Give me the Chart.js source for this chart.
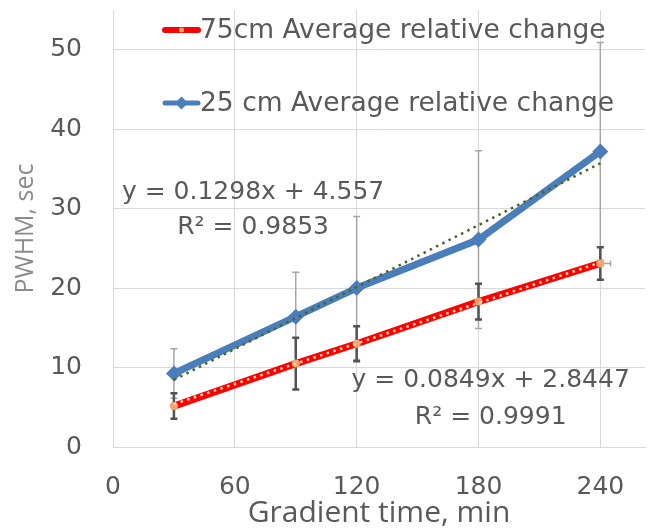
<!DOCTYPE html>
<html>
<head>
<meta charset="utf-8">
<script src="https://cdn.jsdelivr.net/npm/chart.js@4.4.1/dist/chart.umd.min.js"></script>
<style>
  html, body { margin: 0; padding: 0; background: #ffffff; }
  canvas { display: block; }
</style>
</head>
<body>
<canvas id="chart" width="653" height="528"></canvas>
<script>
// Gradient time (min) at which each column length was measured
const gradientTimes = [30, 90, 120, 180, 240];

// 75 cm column: mean peak width and its spread
const pwhm75 = [5.15, 10.5, 13.0, 18.3, 23.1];
const pwhm75Err = [1.6, 3.25, 2.2, 2.25, 2.05];
const pwhm75XErr = [0, 0, 0, 0, 5];

// 25 cm column: mean peak width and its spread
const pwhm25 = [9.25, 16.4, 20.0, 26.1, 37.2];
const pwhm25Err = [3.1, 5.6, 9.0, 11.2, 13.7];

// Linear fits: [slope, intercept]
const fit75 = [0.0849, 2.8447];
const fit25 = [0.1298, 4.557];
const r2Fit75 = '0.9991';
const r2Fit25 = '0.9853';

// Axis ticks
const xTicks = [0, 60, 120, 180, 240];
const yTicks = [0, 10, 20, 30, 40, 50];

const TEXT = '#595959';
const GRID = '#d9d9d9';
const RED = '#ff0000';
const BLUE = '#4a7ebb';
const TICK_FONT = { family: '"DejaVu Sans", sans-serif', size: 25 };

const toPoints = (xs, ys) => xs.map((x, i) => ({ x, y: ys[i] }));
const fitLine = (fit) => {
  const x0 = gradientTimes[0];
  const x1 = gradientTimes[gradientTimes.length - 1];
  return [{ x: x0, y: fit[0] * x0 + fit[1] }, { x: x1, y: fit[0] * x1 + fit[1] }];
};
const fmtEq = (fit) => 'y = ' + fit[0] + 'x + ' + fit[1];

// Vertical (and one horizontal) error bars, drawn under the series lines
const errorBars = {
  id: 'errorBars',
  beforeDatasetsDraw(chart) {
    const { ctx, scales: { x, y } } = chart;
    const bars = (vals, errs, xErrs, color, width, cap) => {
      ctx.save();
      ctx.strokeStyle = color;
      ctx.lineWidth = width;
      ctx.lineCap = 'butt';
      gradientTimes.forEach((t, i) => {
        const px = x.getPixelForValue(t);
        const top = y.getPixelForValue(vals[i] + errs[i]);
        const bot = y.getPixelForValue(vals[i] - errs[i]);
        ctx.beginPath();
        ctx.moveTo(px, top); ctx.lineTo(px, bot);
        ctx.moveTo(px - cap, top); ctx.lineTo(px + cap, top);
        ctx.moveTo(px - cap, bot); ctx.lineTo(px + cap, bot);
        ctx.stroke();
        if (xErrs && xErrs[i]) {
          const py = y.getPixelForValue(vals[i]);
          const l = x.getPixelForValue(t - xErrs[i]);
          const r = x.getPixelForValue(t + xErrs[i]);
          ctx.beginPath();
          ctx.lineWidth = 1.5;
          ctx.strokeStyle = '#a6a6a6';
          ctx.moveTo(l, py); ctx.lineTo(r, py);
          ctx.moveTo(r, py - 3); ctx.lineTo(r, py + 3);
          ctx.stroke();
          ctx.lineWidth = width;
          ctx.strokeStyle = color;
        }
      });
      ctx.restore();
    };
    bars(pwhm25, pwhm25Err, null, '#a6a6a6', 1.5, 3.5);
    bars(pwhm75, pwhm75Err, pwhm75XErr, '#525252', 2.5, 3.5);
  }
};

// Fit equations, placed in data coordinates
const fitLabels = {
  id: 'fitLabels',
  afterDatasetsDraw(chart) {
    const { ctx, scales: { x, y } } = chart;
    const labels = [
      { at: [69, 32.0], text: fmtEq(fit25) },
      { at: [69, 27.6], text: 'R² = ' + r2Fit25 },
      { at: [186, 8.4], text: fmtEq(fit75) },
      { at: [186, 3.75], text: 'R² = ' + r2Fit75 }
    ];
    ctx.save();
    ctx.font = '25px "DejaVu Sans", sans-serif';
    ctx.fillStyle = TEXT;
    ctx.textAlign = 'center';
    ctx.textBaseline = 'middle';
    labels.forEach(l => ctx.fillText(l.text, x.getPixelForValue(l.at[0]), y.getPixelForValue(l.at[1])));
    ctx.restore();
  }
};

// Two-row legend inside the plot area
const insideLegend = {
  id: 'insideLegend',
  afterDraw(chart) {
    const { ctx, chartArea: a } = chart;
    const x0 = a.left + 52, x1 = a.left + 85, xm = (x0 + x1) / 2;
    const rows = [a.top + 20, a.top + 93];
    ctx.save();
    // red series swatch
    ctx.lineCap = 'round';
    ctx.strokeStyle = RED; ctx.lineWidth = 6;
    ctx.beginPath(); ctx.moveTo(x0, rows[0]); ctx.lineTo(x1, rows[0]); ctx.stroke();
    ctx.fillStyle = '#f6a36f';
    ctx.beginPath(); ctx.arc(xm, rows[0], 2.5, 0, Math.PI * 2); ctx.fill();
    // blue series swatch
    ctx.strokeStyle = BLUE; ctx.lineWidth = 5;
    ctx.beginPath(); ctx.moveTo(x0, rows[1]); ctx.lineTo(x1, rows[1]); ctx.stroke();
    ctx.fillStyle = BLUE;
    ctx.beginPath();
    ctx.moveTo(xm, rows[1] - 6.5); ctx.lineTo(xm + 6.5, rows[1]);
    ctx.lineTo(xm, rows[1] + 6.5); ctx.lineTo(xm - 6.5, rows[1]);
    ctx.closePath(); ctx.fill();
    // labels
    ctx.font = '26.5px "DejaVu Sans", sans-serif';
    ctx.fillStyle = TEXT;
    ctx.textAlign = 'left';
    ctx.textBaseline = 'middle';
    ctx.fillText(chart.data.datasets[3].label, x1 + 2, rows[0] + 1);
    ctx.fillText(chart.data.datasets[1].label, x1 + 2, rows[1] + 1);
    ctx.restore();
  }
};

new Chart(document.getElementById('chart'), {
  type: 'line',
  data: {
    datasets: [
      {
        label: 'Linear (25 cm)',
        data: fitLine(fit25),
        borderColor: '#4f6228',
        borderWidth: 2.5,
        borderDash: [2.5, 4.5],
        pointRadius: 0,
        order: 0
      },
      {
        label: '25 cm Average relative change',
        data: toPoints(gradientTimes, pwhm25),
        borderColor: BLUE,
        backgroundColor: BLUE,
        borderWidth: 7,
        borderJoinStyle: 'round',
        borderCapStyle: 'round',
        pointStyle: 'rectRot',
        pointRadius: 8,
        pointBorderWidth: 0,
        pointBackgroundColor: BLUE,
        order: 1
      },
      {
        label: 'Linear (75cm)',
        data: fitLine(fit75),
        borderColor: '#ffd9b3',
        borderWidth: 2.5,
        borderDash: [2.5, 4.5],
        pointRadius: 0,
        order: 2
      },
      {
        label: '75cm Average relative change',
        data: toPoints(gradientTimes, pwhm75),
        borderColor: RED,
        backgroundColor: RED,
        borderWidth: 7,
        borderJoinStyle: 'round',
        borderCapStyle: 'round',
        pointStyle: 'circle',
        pointRadius: 4,
        pointBorderWidth: 0,
        pointBackgroundColor: '#f6a36f',
        order: 3
      }
    ]
  },
  options: {
    responsive: false,
    animation: false,
    devicePixelRatio: 1,
    layout: { padding: { top: 10, left: 0, right: 0, bottom: 0 } },
    plugins: {
      legend: { display: false },
      tooltip: { enabled: false }
    },
    scales: {
      x: {
        type: 'linear',
        min: 0,
        max: 262,
        afterBuildTicks: s => { s.ticks = xTicks.map(v => ({ value: v })); },
        afterFit: s => { s.height = 81; s.paddingLeft = 0; s.paddingRight = 0; },
        grid: { color: GRID, lineWidth: 1, drawTicks: false },
        border: { color: GRID, width: 1 },
        ticks: { color: TEXT, font: TICK_FONT, padding: 25, maxRotation: 0, autoSkip: false },
        title: {
          display: true,
          text: 'Gradient time, min',
          color: TEXT,
          font: { family: '"Open Sans", sans-serif', size: 30, lineHeight: 1 },
          padding: { top: 0, bottom: 0 }
        }
      },
      y: {
        type: 'linear',
        min: 0,
        max: 55,
        afterBuildTicks: s => { s.ticks = yTicks.map(v => ({ value: v })); },
        afterFit: s => { s.width = 113; s.paddingTop = 0; s.paddingBottom = 0; },
        grid: { color: GRID, lineWidth: 1, drawTicks: false },
        border: { color: GRID, width: 1 },
        ticks: { color: TEXT, font: TICK_FONT, padding: 31 },
        title: {
          display: true,
          text: 'PWHM, sec',
          color: '#8c8c8c',
          font: { family: '"Open Sans", sans-serif', size: 25, lineHeight: 1.2 },
          padding: { top: 11, bottom: 0 }
        }
      }
    }
  },
  plugins: [errorBars, fitLabels, insideLegend]
});
</script>
</body>
</html>
